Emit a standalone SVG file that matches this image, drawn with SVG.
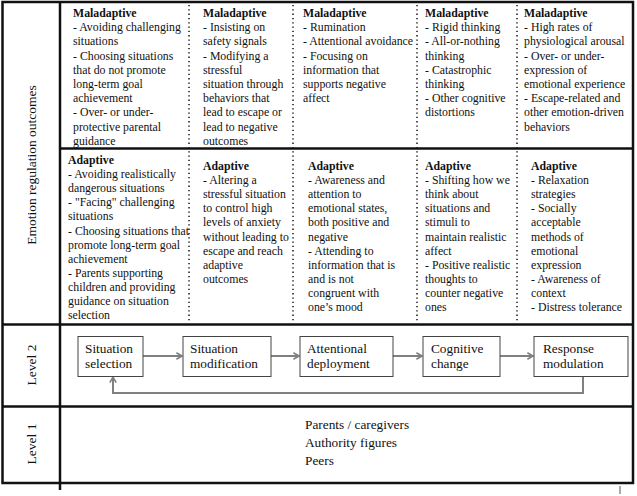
<svg xmlns="http://www.w3.org/2000/svg" width="637" height="496" viewBox="0 0 637 496">
<style>
text{font-family:"Liberation Serif","Times New Roman",serif;fill:#111}
.t{font-size:11.8px}
.h{font-size:11.8px;font-weight:bold}
.b{font-size:13.3px}
.lab{font-size:13.5px}
.frame{fill:none;stroke:#111;stroke-width:2.5}
.dot{stroke:#222;stroke-width:1.6;stroke-dasharray:1.3 3;fill:none}
.box{fill:#fff;stroke:#444;stroke-width:1}
.conn{fill:none;stroke:#808080;stroke-width:2}
</style>
<defs>
<marker id="ah" viewBox="0 0 10 10" refX="8" refY="5" markerWidth="4" markerHeight="4" orient="auto" markerUnits="strokeWidth">
<path d="M1,1 L8,5 L1,9" fill="none" stroke="#808080" stroke-width="2"/>
</marker>
</defs>
<rect width="637" height="496" fill="#fff"/>
<g id="grid">
<rect class="frame" x="2.5" y="2" width="630.5" height="481"/>
<line class="frame" x1="60" y1="2" x2="60" y2="490"/>
<line class="frame" x1="60" y1="148.5" x2="633" y2="148.5"/>
<line class="frame" x1="2.5" y1="324.5" x2="633" y2="324.5"/>
<line class="frame" x1="2.5" y1="406.5" x2="633" y2="406.5"/>
<line x1="620" y1="486" x2="620" y2="494" stroke="#555" stroke-width="1"/>
<line class="dot" x1="189" y1="5" x2="189" y2="322"/>
<line class="dot" x1="293" y1="5" x2="293" y2="322"/>
<line class="dot" x1="417" y1="5" x2="417" y2="322"/>
<line class="dot" x1="517" y1="5" x2="517" y2="322"/>
</g>
<g id="labels">
<text class="lab" transform="translate(36,165) rotate(-90)" text-anchor="middle">Emotion regulation outcomes</text>
<text class="lab" transform="translate(36,365) rotate(-90)" text-anchor="middle">Level 2</text>
<text class="lab" transform="translate(36,444) rotate(-90)" text-anchor="middle">Level 1</text>
</g>
<g id="mal1">
<text class="h" x="73" y="17">Maladaptive</text>
<text class="t" x="73" y="31.2">- Avoiding challenging</text>
<text class="t" x="73" y="45.4">situations</text>
<text class="t" x="73" y="59.6">- Choosing situations</text>
<text class="t" x="73" y="73.8">that do not promote</text>
<text class="t" x="73" y="88">long-term goal</text>
<text class="t" x="73" y="102.2">achievement</text>
<text class="t" x="73" y="116.4">- Over- or under-</text>
<text class="t" x="73" y="130.6">protective parental</text>
<text class="t" x="73" y="144.8">guidance</text>
</g>
<g id="mal2">
<text class="h" x="203" y="17">Maladaptive</text>
<text class="t" x="203" y="31.2">- Insisting on</text>
<text class="t" x="203" y="45.4">safety signals</text>
<text class="t" x="203" y="59.6">- Modifying a</text>
<text class="t" x="203" y="73.8">stressful</text>
<text class="t" x="203" y="88">situation through</text>
<text class="t" x="203" y="102.2">behaviors that</text>
<text class="t" x="203" y="116.4">lead to escape or</text>
<text class="t" x="203" y="130.6">lead to negative</text>
<text class="t" x="203" y="144.8">outcomes</text>
</g>
<g id="mal3">
<text class="h" x="303" y="17">Maladaptive</text>
<text class="t" x="303" y="31.2">- Rumination</text>
<text class="t" x="303" y="45.4">- Attentional avoidance</text>
<text class="t" x="303" y="59.6">- Focusing on</text>
<text class="t" x="303" y="73.8">information that</text>
<text class="t" x="303" y="88">supports negative</text>
<text class="t" x="303" y="102.2">affect</text>
</g>
<g id="mal4">
<text class="h" x="425" y="17">Maladaptive</text>
<text class="t" x="425" y="31.2">- Rigid thinking</text>
<text class="t" x="425" y="45.4">- All-or-nothing</text>
<text class="t" x="425" y="59.6">thinking</text>
<text class="t" x="425" y="73.8">- Catastrophic</text>
<text class="t" x="425" y="88">thinking</text>
<text class="t" x="425" y="102.2">- Other cognitive</text>
<text class="t" x="425" y="116.4">distortions</text>
</g>
<g id="mal5">
<text class="h" x="524" y="17">Maladaptive</text>
<text class="t" x="524" y="31.2">- High rates of</text>
<text class="t" x="524" y="45.4">physiological arousal</text>
<text class="t" x="524" y="59.6">- Over- or under-</text>
<text class="t" x="524" y="73.8">expression of</text>
<text class="t" x="524" y="88">emotional experience</text>
<text class="t" x="524" y="102.2">- Escape-related and</text>
<text class="t" x="524" y="116.4">other emotion-driven</text>
<text class="t" x="524" y="130.6">behaviors</text>
</g>
<g id="ad1">
<text class="h" x="68" y="164">Adaptive</text>
<text class="t" x="68" y="178.1">- Avoiding realistically</text>
<text class="t" x="68" y="192.2">dangerous situations</text>
<text class="t" x="68" y="206.3">- "Facing" challenging</text>
<text class="t" x="68" y="220.4">situations</text>
<text class="t" x="68" y="234.5">- Choosing situations that</text>
<text class="t" x="68" y="248.6">promote long-term goal</text>
<text class="t" x="68" y="262.7">achievement</text>
<text class="t" x="68" y="276.8">- Parents supporting</text>
<text class="t" x="68" y="290.9">children and providing</text>
<text class="t" x="68" y="305">guidance on situation</text>
<text class="t" x="68" y="319.1">selection</text>
</g>
<g id="ad2">
<text class="h" x="203" y="170">Adaptive</text>
<text class="t" x="203" y="184.1">- Altering a</text>
<text class="t" x="203" y="198.2">stressful situation</text>
<text class="t" x="203" y="212.3">to control high</text>
<text class="t" x="203" y="226.4">levels of anxiety</text>
<text class="t" x="203" y="240.5">without leading to</text>
<text class="t" x="203" y="254.6">escape and reach</text>
<text class="t" x="203" y="268.7">adaptive</text>
<text class="t" x="203" y="282.8">outcomes</text>
</g>
<g id="ad3">
<text class="h" x="308" y="170">Adaptive</text>
<text class="t" x="308" y="184.1">- Awareness and</text>
<text class="t" x="308" y="198.2">attention to</text>
<text class="t" x="308" y="212.3">emotional states,</text>
<text class="t" x="308" y="226.4">both positive and</text>
<text class="t" x="308" y="240.5">negative</text>
<text class="t" x="308" y="254.6">- Attending to</text>
<text class="t" x="308" y="268.7">information that is</text>
<text class="t" x="308" y="282.8">and is not</text>
<text class="t" x="308" y="296.9">congruent with</text>
<text class="t" x="308" y="311">one’s mood</text>
</g>
<g id="ad4">
<text class="h" x="425" y="170">Adaptive</text>
<text class="t" x="425" y="184.1">- Shifting how we</text>
<text class="t" x="425" y="198.2">think about</text>
<text class="t" x="425" y="212.3">situations and</text>
<text class="t" x="425" y="226.4">stimuli to</text>
<text class="t" x="425" y="240.5">maintain realistic</text>
<text class="t" x="425" y="254.6">affect</text>
<text class="t" x="425" y="268.7">- Positive realistic</text>
<text class="t" x="425" y="282.8">thoughts to</text>
<text class="t" x="425" y="296.9">counter negative</text>
<text class="t" x="425" y="311">ones</text>
</g>
<g id="ad5">
<text class="h" x="531" y="170">Adaptive</text>
<text class="t" x="531" y="184.1">- Relaxation</text>
<text class="t" x="531" y="198.2">strategies</text>
<text class="t" x="531" y="212.3">- Socially</text>
<text class="t" x="531" y="226.4">acceptable</text>
<text class="t" x="531" y="240.5">methods of</text>
<text class="t" x="531" y="254.6">emotional</text>
<text class="t" x="531" y="268.7">expression</text>
<text class="t" x="531" y="282.8">- Awareness of</text>
<text class="t" x="531" y="296.9">context</text>
<text class="t" x="531" y="311">- Distress tolerance</text>
</g>
<g id="connectors">
<line class="conn" x1="143" y1="356" x2="182" y2="356" marker-end="url(#ah)"/>
<line class="conn" x1="271" y1="356" x2="299" y2="356" marker-end="url(#ah)"/>
<line class="conn" x1="393" y1="356" x2="422" y2="356" marker-end="url(#ah)"/>
<line class="conn" x1="500" y1="356" x2="533" y2="356" marker-end="url(#ah)"/>
<polyline class="conn" points="583,376 583,393 113,393 113,377" marker-end="url(#ah)"/>
</g>
<g id="n-selection">
<rect class="box" x="78" y="336.5" width="65" height="40"/>
<text class="b" x="85" y="353">Situation</text>
<text class="b" x="85" y="368">selection</text>
</g>
<g id="n-modification">
<rect class="box" x="183" y="336.5" width="88" height="40"/>
<text class="b" x="190" y="353">Situation</text>
<text class="b" x="190" y="368">modification</text>
</g>
<g id="n-attentional">
<rect class="box" x="300" y="336.5" width="93" height="40"/>
<text class="b" x="307" y="353">Attentional</text>
<text class="b" x="307" y="368">deployment</text>
</g>
<g id="n-cognitive">
<rect class="box" x="423" y="336.5" width="77" height="40"/>
<text class="b" x="431" y="353">Cognitive</text>
<text class="b" x="431" y="368">change</text>
</g>
<g id="n-response">
<rect class="box" x="534" y="336.5" width="94" height="40"/>
<text class="b" x="543" y="353">Response</text>
<text class="b" x="543" y="368">modulation</text>
</g>
<g id="level1">
<text class="b" x="305" y="429">Parents / caregivers</text>
<text class="b" x="305" y="447">Authority figures</text>
<text class="b" x="305" y="465">Peers</text>
</g>
</svg>
